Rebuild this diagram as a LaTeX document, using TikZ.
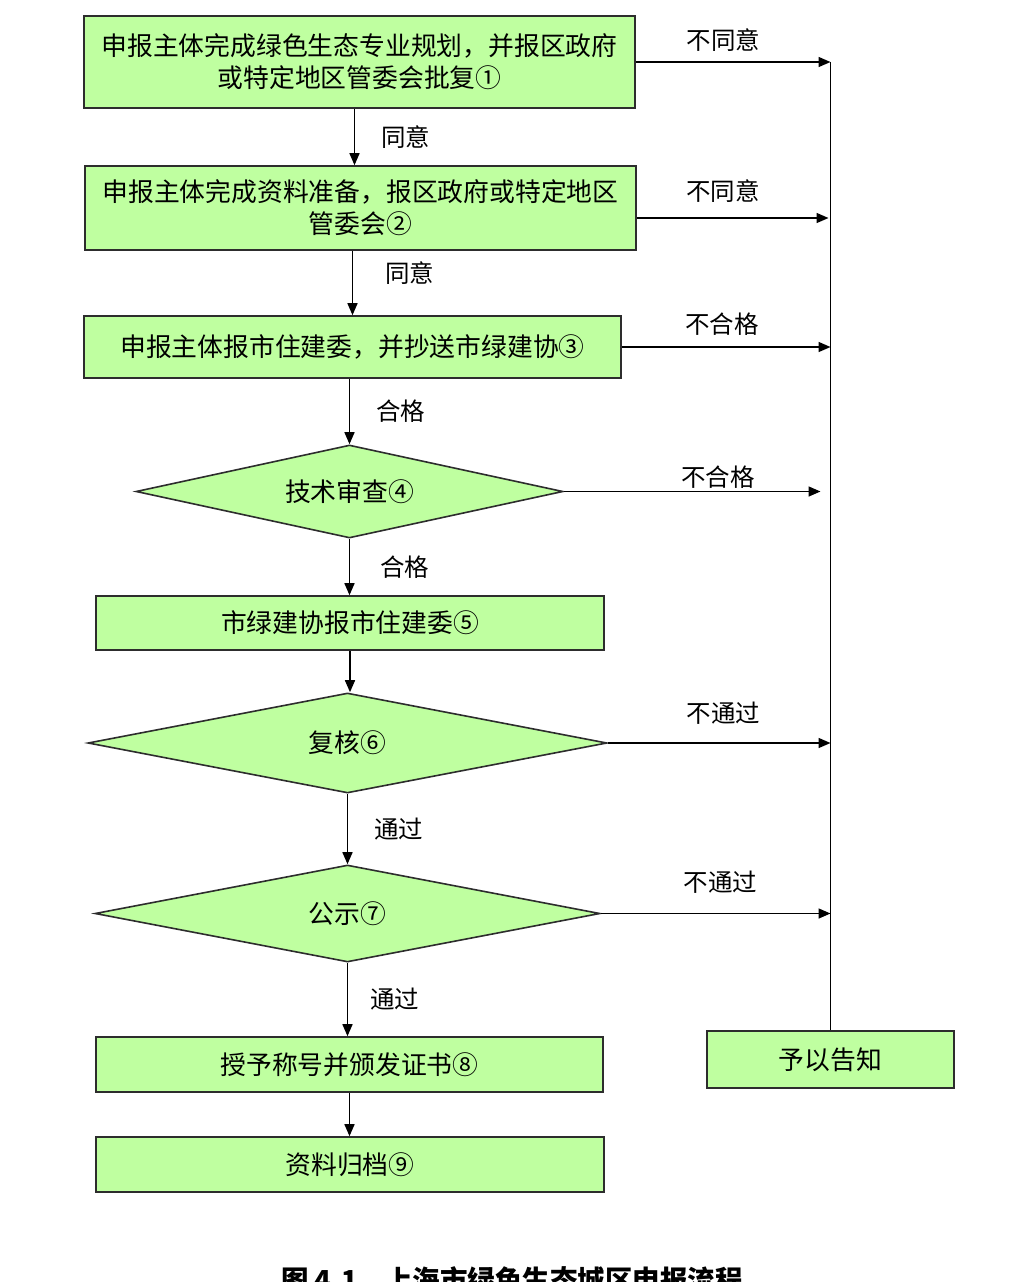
\documentclass[tikz,border=0pt]{standalone}
\usepackage{fontspec}
\usepackage{tikz}
\usetikzlibrary{positioning, arrows.meta, shapes.geometric}
\newfontfamily\cjk{Noto Sans CJK SC}
\definecolor{boxgreen}{RGB}{191,255,160}
\definecolor{edgegray}{RGB}{45,45,45}
\tikzset{
  stepbox/.style={draw=edgegray, line width=1.6pt, fill=boxgreen, inner sep=0pt, align=center, font=\cjk\fontsize{25.8}{32}\selectfont},
  checkbox/.style={stepbox, shape=diamond},
  lbl/.style={inner sep=2pt, font=\cjk\fontsize{24.5}{30}\selectfont},
  arr/.style={-{Triangle[length=12pt,width=10pt]}, line width=1.5pt}
}

\begin{document}
\begin{tikzpicture}[x=1pt, y=-1pt]
\useasboundingbox (0,0) rectangle (1026,1282);
\clip (0,0) rectangle (1026,1282);
% Steps
\node[stepbox, minimum width=551pt, minimum height=92pt] (b1) at (359.5,62) {申报主体完成绿色生态专业规划，并报区政府\\或特定地区管委会批复①};
\node[stepbox, minimum width=551pt, minimum height=84pt] (b2) at (360.5,208) {申报主体完成资料准备，报区政府或特定地区\\管委会②};
\node[stepbox, minimum width=537pt, minimum height=62pt] (b3) at (352.5,347) {申报主体报市住建委，并抄送市绿建协③};
\node[checkbox, aspect=4.6, minimum width=427pt, minimum height=93pt] (d4) at (349.5,491.5) {技术审查④};
\node[stepbox, minimum width=508pt, minimum height=54pt] (b5) at (350,623) {市绿建协报市住建委⑤};
\node[checkbox, aspect=5.2, minimum width=519pt, minimum height=100pt] (d6) at (347.5,743) {复核⑥};
\node[checkbox, aspect=5.2, minimum width=505pt, minimum height=97pt] (d7) at (347.5,913.5) {公示⑦};
\node[stepbox, minimum width=507pt, minimum height=55pt] (b8) at (349.5,1064.5) {授予称号并颁发证书⑧};
\node[stepbox, minimum width=508pt, minimum height=55pt] (b9) at (350,1164.5) {资料归档⑨};
\node[stepbox, minimum width=247pt, minimum height=57pt] (gz) at (830.5,1059.5) {予以告知};
% Caption
\node[font=\cjk\bfseries\fontsize{27.5}{32}\selectfont] (cap) at (512,1280) {图 4.1\quad 上海市绿色生态城区申报流程};
% Main flow
\draw[arr] ([xshift=-5pt]b1.south) -- ([xshift=-5pt]b1.south |- b2.north) node[lbl, midway, right=24pt] (l1) {同意};
\draw[arr] (b2.south -| b3.north) -- (b3.north) node[lbl, pos=0.35, right=30pt] (l2) {同意};
\draw[arr] (b3.south -| d4.north) -- (d4.north) node[lbl, midway, right=24pt] (l3) {合格};
\draw[arr] (d4.south) -- (d4.south |- b5.north) node[lbl, midway, right=28pt] (l4) {合格};
\draw[arr] (b5.south) -- (b5.south |- d6.north);
\draw[arr] (d6.south) -- (d7.north) node[lbl, midway, right=24pt] (l5) {通过};
\draw[arr] (d7.south) -- (d7.south |- b8.north) node[lbl, midway, right=20pt] (l6) {通过};
\draw[arr] (b8.south) -- (b8.south |- b9.north);
% Rejections
\draw[line width=1.5pt] (gz.north) -- (gz.north |- b1.east);
\draw[arr] (b1.east) -- (b1.east -| gz.north) node[lbl, pos=0.45, above=8pt] (n1) {不同意};
\draw[arr] ([yshift=-10pt]b2.east) -- ([yshift=-10pt, xshift=-2pt]b2.east -| gz.north) node[lbl, pos=0.45, above=13pt] (n2) {不同意};
\draw[arr] (b3.east) -- (b3.east -| gz.north) node[lbl, pos=0.48, above=9pt] (n3) {不合格};
\draw[arr] (d4.east) -- ([xshift=-10pt]d4.east -| gz.north) node[lbl, pos=0.6, above=0pt] (n4) {不合格};
\draw[arr] (d6.east) -- (d6.east -| gz.north) node[lbl, pos=0.52, above=16pt] (n5) {不通过};
\draw[arr] (d7.east) -- (d7.east -| gz.north) node[lbl, pos=0.52, above=17pt] (n6) {不通过};
\end{tikzpicture}
\end{document}
